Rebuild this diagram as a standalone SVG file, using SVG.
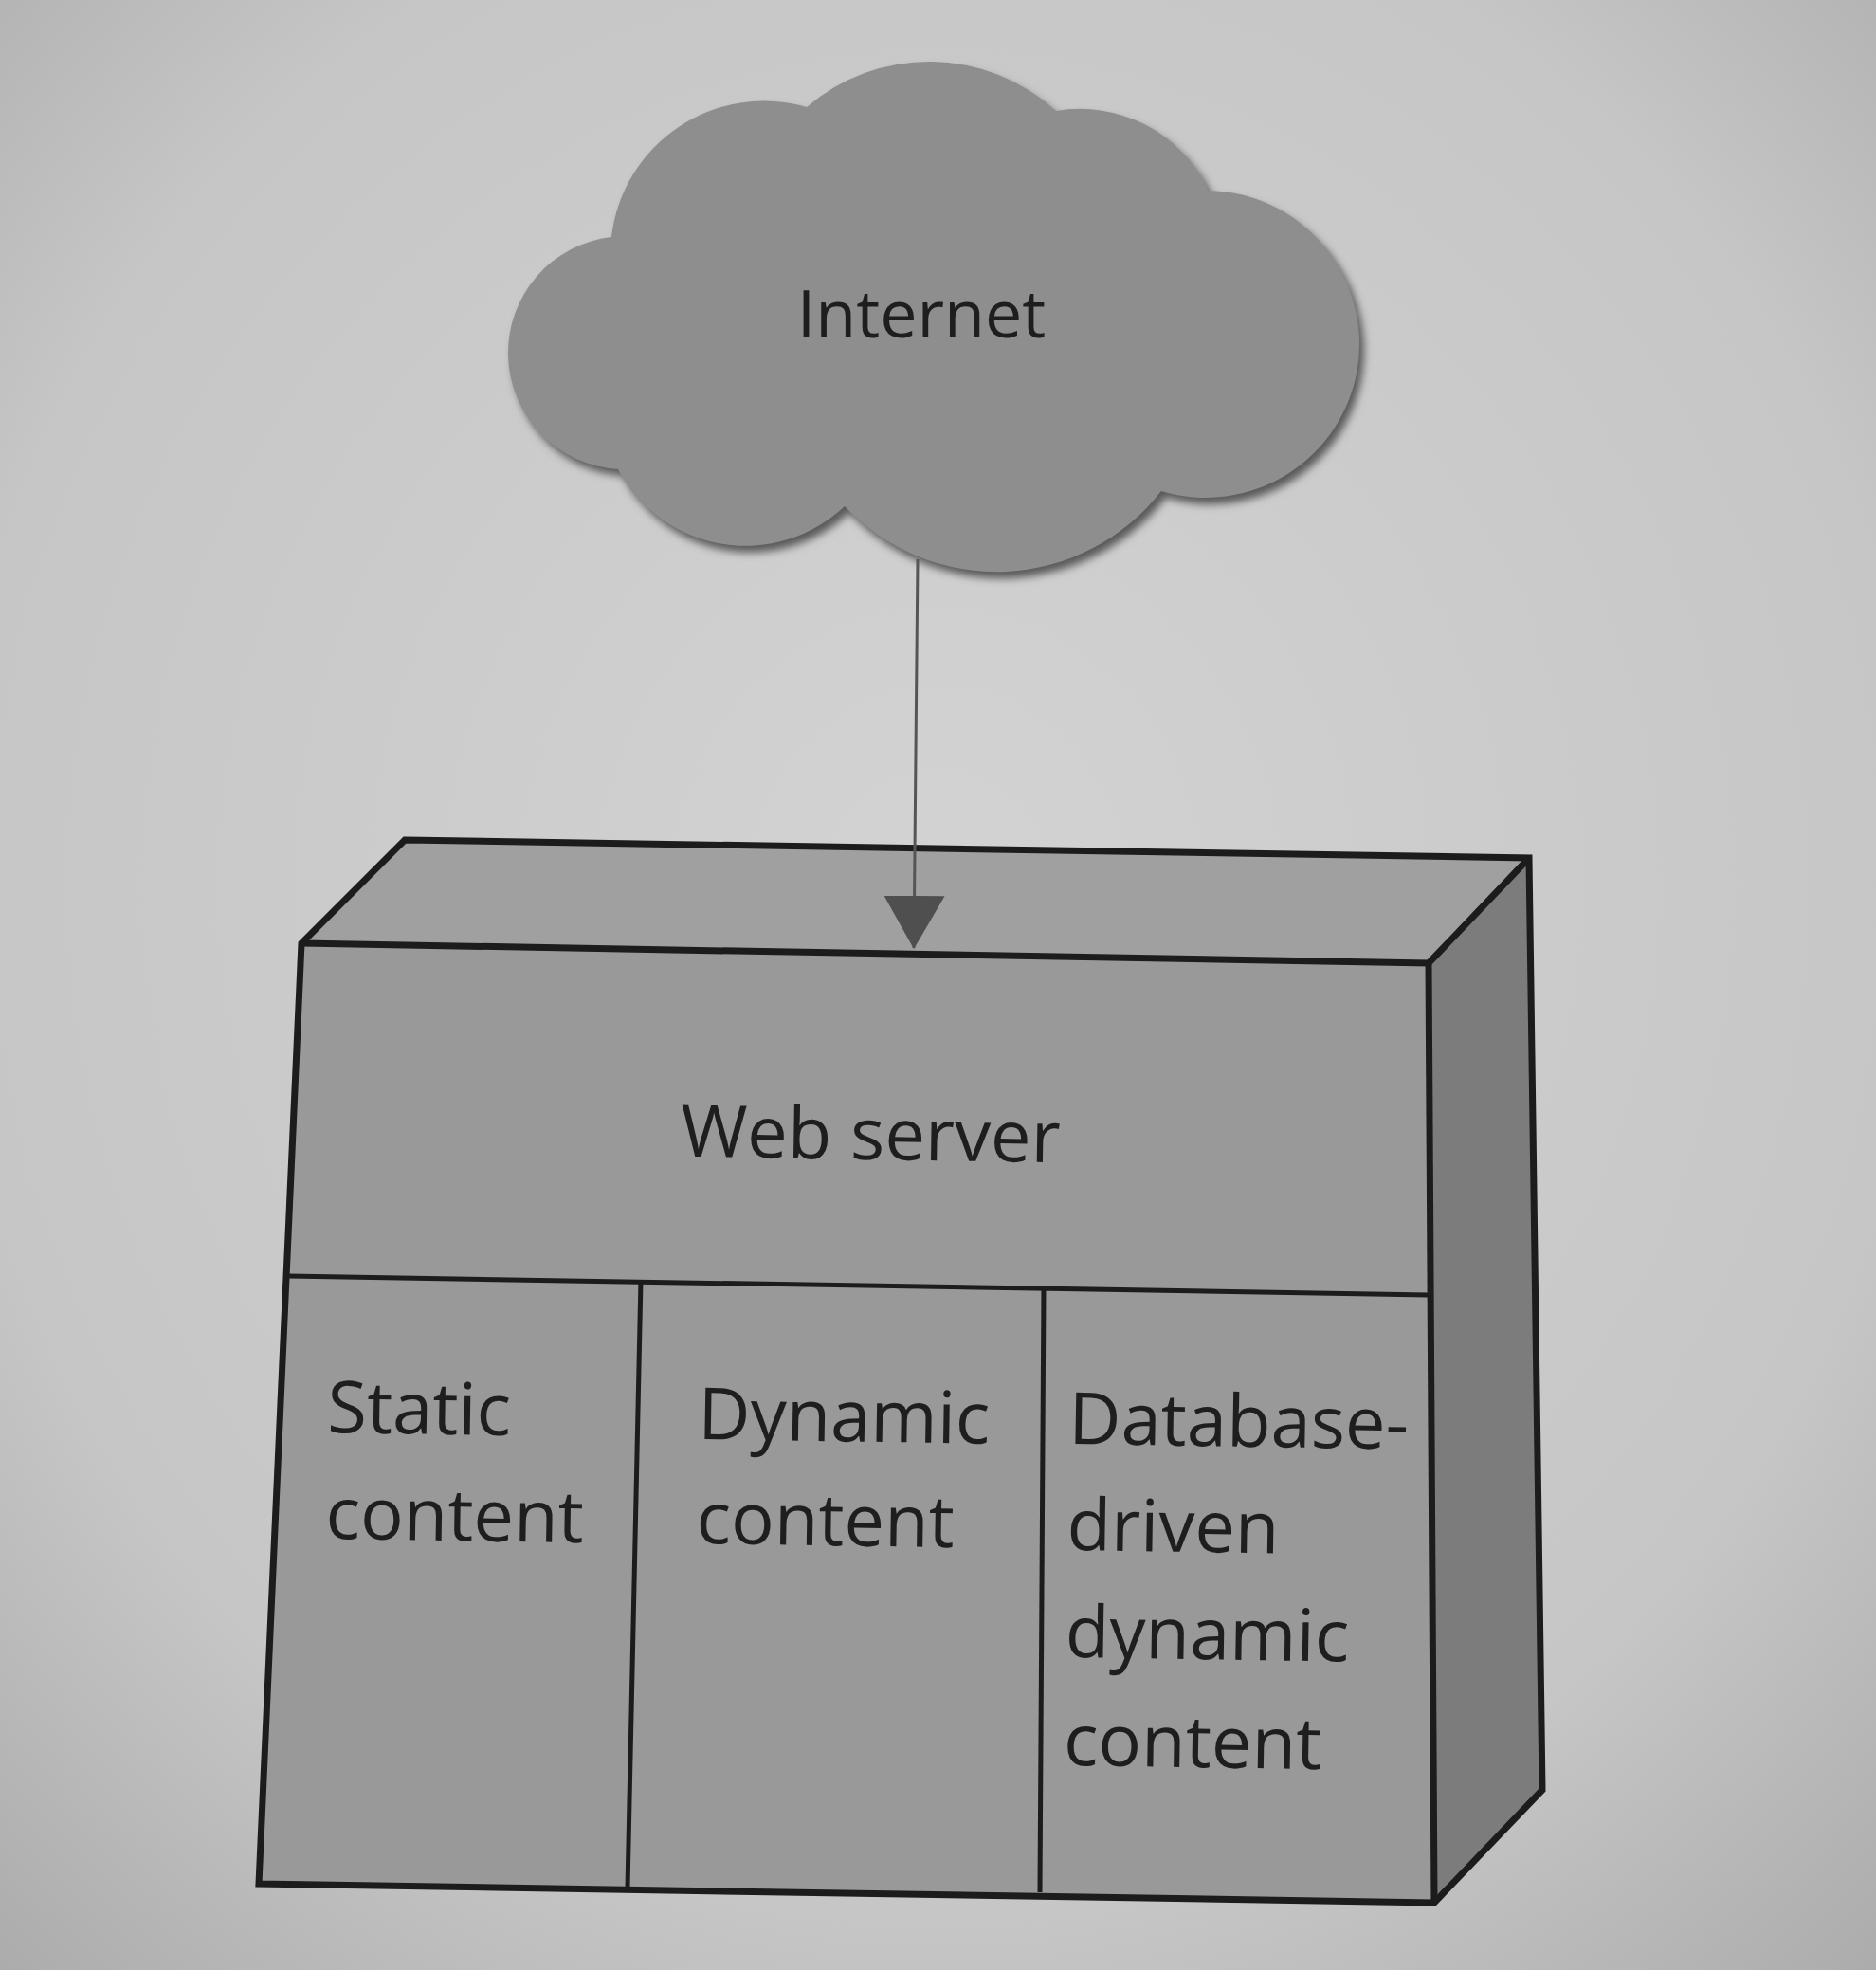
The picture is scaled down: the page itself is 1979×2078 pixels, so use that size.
<svg xmlns="http://www.w3.org/2000/svg" width="1979" height="2078" viewBox="0 0 1979 2078">
<defs>
<radialGradient id="bg" cx="0.5" cy="0.45" r="0.75">
<stop offset="0" stop-color="#d3d3d3"/>
<stop offset="0.7" stop-color="#c6c6c6"/>
<stop offset="1" stop-color="#ababab"/>
</radialGradient>
<filter id="soft" x="-10%" y="-10%" width="120%" height="120%">
<feGaussianBlur stdDeviation="4"/>
</filter>
<marker id="arr" markerWidth="56" markerHeight="64" refX="55" refY="32" orient="auto" markerUnits="userSpaceOnUse" viewBox="0 0 56 64">
<path d="M0,0 L56,32 L0,64 Z" fill="#4f4f4f"/>
</marker>
<style>
.lbl{font-family:"Open Sans","Noto Sans","Liberation Sans",sans-serif;fill:#1e1e1e}
.edge{fill:none;stroke:#1c1c1c;stroke-width:7;stroke-linejoin:miter}
.div{fill:none;stroke:#1c1c1c;stroke-width:5}
</style>
</defs>
<rect x="0" y="0" width="1979" height="2078" fill="url(#bg)"/>

<g id="internet">
<path d="M851,113 A198,198 0 0 1 1114,117 A150,150 0 0 1 1275,201 A162,162 0 1 1 1225,518 A220,220 0 0 1 891,534 A152,152 0 0 1 652,495 A123,123 0 0 1 645,250 A162,162 0 0 1 851,113 Z" fill="#5a5a5a" filter="url(#soft)" transform="translate(5,7)"/>
<path d="M851,113 A198,198 0 0 1 1114,117 A150,150 0 0 1 1275,201 A162,162 0 1 1 1225,518 A220,220 0 0 1 891,534 A152,152 0 0 1 652,495 A123,123 0 0 1 645,250 A162,162 0 0 1 851,113 Z" fill="#8e8e8e"/>
<text class="lbl" x="972" y="356" font-size="70" text-anchor="middle">Internet</text>
</g>

<g id="webserver">
<polygon points="427,886 1613,905 1507,1016 318,995" fill="#a0a0a0"/>
<polygon points="1613,905 1627,1888 1513,2007 1507,1016" fill="#7c7c7c"/>
<polygon points="318,995 1507,1016 1513,2007 273,1987" fill="#999999"/>
<polygon class="edge" points="427,886 1613,905 1627,1888 1513,2007 273,1987 318,995"/>
<polyline class="edge" points="318,995 1507,1016 1613,905"/>
<line class="edge" x1="1507" y1="1016" x2="1513" y2="2007"/>
<line class="div" x1="304" y1="1346" x2="1507" y2="1366"/>
<text class="lbl" x="918" y="1223" font-size="76" text-anchor="middle" transform="rotate(0.9 918 1223)">Web server</text>
</g>

<g id="static">
<line class="div" x1="676" y1="1350" x2="662" y2="1991"/>
<text class="lbl" font-size="76" transform="rotate(0.9 345 1511)"><tspan x="345" y="1511">Static</tspan><tspan x="345" y="1623">content</tspan></text>
</g>

<g id="dynamic">
<line class="div" x1="1101" y1="1357" x2="1097" y2="1996"/>
<text class="lbl" font-size="76" transform="rotate(0.9 736 1518)"><tspan x="736" y="1518">Dynamic</tspan><tspan x="736" y="1628">content</tspan></text>
</g>

<g id="database">
<text class="lbl" font-size="76" transform="rotate(0.9 1127 1523)"><tspan x="1127" y="1523">Database-</tspan><tspan x="1127" y="1635">driven</tspan><tspan x="1127" y="1748">dynamic</tspan><tspan x="1127" y="1862">content</tspan></text>
</g>

<g id="connectors">
<line x1="968" y1="590" x2="964" y2="1000" stroke="#555555" stroke-width="3" marker-end="url(#arr)"/>
</g>
</svg>
